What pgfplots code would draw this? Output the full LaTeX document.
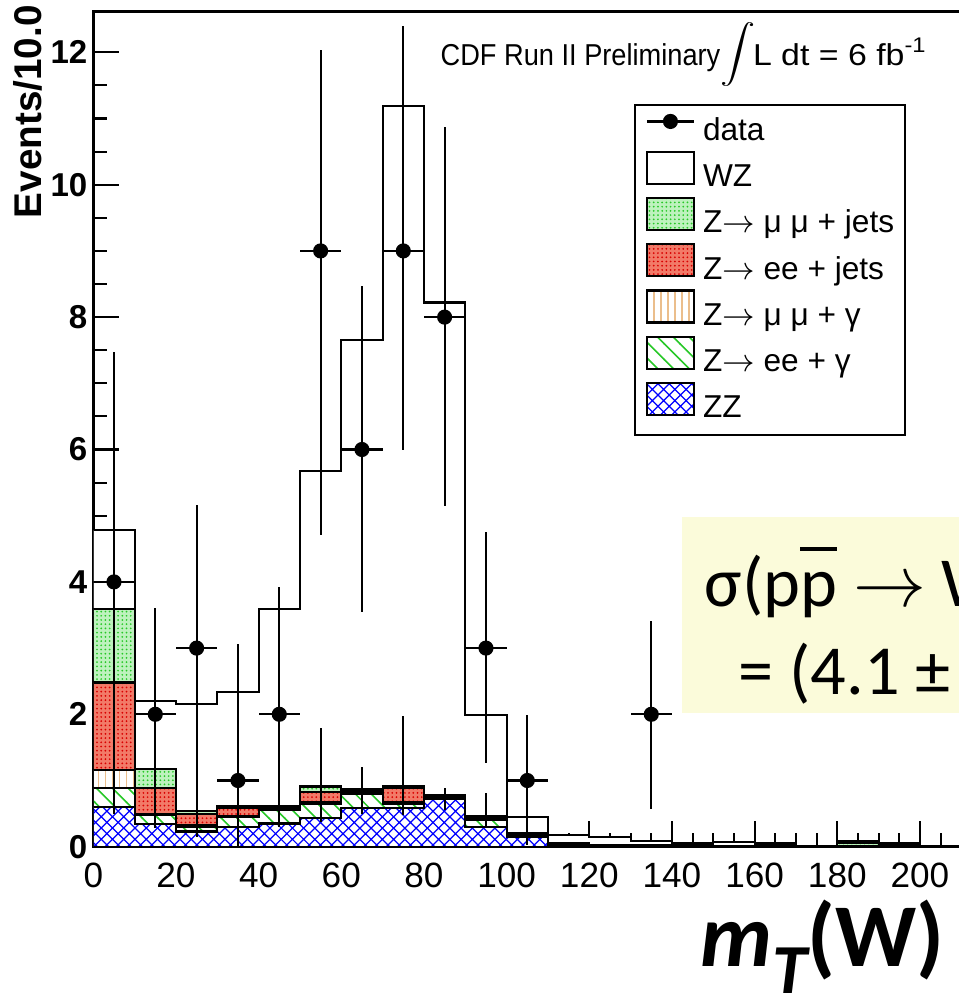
\documentclass[border=0pt]{standalone}
\usepackage{fontspec}
\setmainfont{Liberation Sans}
\newfontfamily\calibri{Carlito}
\usepackage{graphicx}
\usepackage{pgfplots}
\usepackage{pgfplotstable}
\pgfplotsset{compat=1.18}
\usetikzlibrary{patterns}

\pgfdeclarepatternformonly{dcross}{\pgfqpoint{-1pt}{-1pt}}{\pgfqpoint{4.2pt}{4.2pt}}{\pgfqpoint{3.2pt}{3.2pt}}{%
  \pgfsetlinewidth{0.35pt}%
  \pgfpathmoveto{\pgfqpoint{-0.1pt}{-0.1pt}}\pgfpathlineto{\pgfqpoint{3.3pt}{3.3pt}}%
  \pgfpathmoveto{\pgfqpoint{-0.1pt}{3.3pt}}\pgfpathlineto{\pgfqpoint{3.3pt}{-0.1pt}}%
  \pgfusepath{stroke}}
\pgfdeclarepatternformonly{nwlines}{\pgfqpoint{-1pt}{-1pt}}{\pgfqpoint{5.5pt}{5.5pt}}{\pgfqpoint{4.5pt}{4.5pt}}{%
  \pgfsetlinewidth{0.45pt}%
  \pgfpathmoveto{\pgfqpoint{-0.1pt}{4.6pt}}\pgfpathlineto{\pgfqpoint{4.6pt}{-0.1pt}}%
  \pgfusepath{stroke}}
\pgfdeclarepatternformonly{vlines}{\pgfqpoint{-1pt}{-1pt}}{\pgfqpoint{3pt}{3pt}}{\pgfqpoint{2pt}{2pt}}{%
  \pgfsetlinewidth{0.5pt}%
  \pgfpathmoveto{\pgfqpoint{0pt}{-0.1pt}}\pgfpathlineto{\pgfqpoint{0pt}{2.1pt}}%
  \pgfusepath{stroke}}
\pgfdeclarepatternformonly{fdots}{\pgfqpoint{-0.5pt}{-0.5pt}}{\pgfqpoint{1.7pt}{1.7pt}}{\pgfqpoint{1.2pt}{1.2pt}}{%
  \pgfpathcircle{\pgfqpoint{0pt}{0pt}}{0.28pt}\pgfusepath{fill}}

\definecolor{ybox}{RGB}{251,251,218}
\definecolor{zeefill}{RGB}{242,122,104}
\definecolor{zmmfill}{RGB}{190,242,190}
\definecolor{tan}{RGB}{235,190,140}
\definecolor{hgreen}{RGB}{40,200,40}

\newcommand\pbar{\leavevmode\setbox0\hbox{p}\rlap{\raisebox{0.8em}{\rule{\wd0}{0.05em}}}p}

% cumulative stack heights (ROOT THStack): x = low edge of bin
\pgfplotstableread{
x   zz    zeeg  zmmg  zeej  zmmj  wz
0   0.60  0.88  1.16  2.48  3.59  4.78
10  0.34  0.48  0.50  0.88  1.18  2.20
20  0.23  0.30  0.33  0.50  0.54  2.16
30  0.30  0.45  0.47  0.58  0.62  2.34
40  0.35  0.55  0.56  0.58  0.62  3.59
50  0.43  0.65  0.68  0.82  0.91  5.68
60  0.59  0.80  0.83  0.84  0.87  7.66
70  0.59  0.65  0.67  0.88  0.91  11.19
80  0.72  0.73  0.74  0.75  0.78  8.22
90  0.30  0.40  0.41  0.44  0.47  1.99
100 0.14  0.17  0.18  0.19  0.21  0.45
110 0.02  0.03  0.04  0.05  0.06  0.18
120 0.01  0.015 0.02  0.025 0.03  0.14
130 0.01  0.015 0.02  0.025 0.03  0.09
140 0.01  0.015 0.02  0.03  0.04  0.06
150 0.005 0.01  0.01  0.012 0.015 0.075
160 0.01  0.015 0.02  0.025 0.03  0.05
170 0     0     0     0     0     0.01
180 0     0.005 0.005 0.01  0.05  0.085
190 0.01  0.015 0.02  0.03  0.04  0.05
200 0     0     0     0     0     0
}\stacktab

\pgfplotstableread{
x   y  ex  ep    em
5   4  5   3.48  3.50
15  2  5   1.60  1.72
25  3  5   2.16  2.85
35  1  5   2.06  1.00
45  2  5   1.93  1.70
55  9  5   3.04  4.29
65  6  5   2.47  2.45
75  9  5   3.40  3.00
85  8  5   2.87  2.86
95  3  5   1.75  1.74
105 1  5   0.99  0.98
135 2  5   1.41  1.43
}\datatab

\pgfplotstableread{
x   lo    len
55  0.38  1.41
65  0.50  0.70
75  0.48  1.49
85  0.55  0.34
95  0.30  0.51
}\segtab

\begin{document}
\begin{tikzpicture}
\begin{axis}[
  at={(0,0)}, anchor=south west,
  scale only axis, width=103.33mm, height=83.54mm,
  xmin=0, xmax=250, ymin=0, ymax=12.62,
  axis line style={line width=0.7pt},
  xtick={0,20,...,200}, ytick={0,2,...,12},
  extra x ticks={220,240}, extra x tick labels={},
  minor xtick={5,10,...,245}, minor y tick num=3,
  xtick pos=bottom, ytick pos=left,
  tick align=inside,
  major tick length=2.6mm, minor tick length=1.4mm,
  every tick/.style={black, line width=0.6pt},
  extra x tick style={tick align=inside, major tick length=2.6mm},
  /pgf/number format/assume math mode=true,
  xticklabel style={font=\fontsize{10}{11}\selectfont, inner sep=1pt, yshift=-1.2mm},
  yticklabel style={font=\bfseries\fontsize{9.4}{10}\selectfont, inner sep=1.5pt},
  legend style={at={(0.5233,0.889)}, anchor=north west, draw=black, line width=0.5pt,
    font=\fontsize{9}{10}\selectfont, inner xsep=1.1mm, inner ysep=0.9mm,
    row sep=0.22mm, column sep=0.8mm,
    nodes={inner xsep=0pt, inner ysep=0pt, text height=2.6mm, text depth=0.8mm}},
  legend cell align=left,
  legend image code/.code={\draw[#1] (0mm,-0.6mm) rectangle (4.7mm,2.6mm);},
  every axis plot/.append style={line width=0.6pt},
]
\addlegendimage{legend image code/.code={
   \draw[black, line width=0.6pt] (0mm,1mm) -- (4.7mm,1mm);
   \fill[black] (2.35mm,1mm) circle (0.65mm);}}
\addlegendentry{data}

\addplot[const plot, draw=black, fill=white] table[x=x, y=wz] {\stacktab} \closedcycle;
\addlegendentry{WZ}
\addplot[const plot, draw=black, fill=zmmfill, postaction={pattern=fdots, pattern color=hgreen}] table[x=x, y=zmmj] {\stacktab} \closedcycle;
\addlegendentry{Z$\rightarrow$ μ μ + jets}
\addplot[const plot, draw=black, fill=zeefill, postaction={pattern=fdots, pattern color=red!85!black}] table[x=x, y=zeej] {\stacktab} \closedcycle;
\addlegendentry{Z$\rightarrow$ ee + jets}
\addplot[const plot, draw=black, fill=white, postaction={pattern=vlines, pattern color=tan}] table[x=x, y=zmmg] {\stacktab} \closedcycle;
\addlegendentry{Z$\rightarrow$ μ μ + γ}
\addplot[const plot, draw=black, fill=white, postaction={pattern=nwlines, pattern color=hgreen}] table[x=x, y=zeeg] {\stacktab} \closedcycle;
\addlegendentry{Z$\rightarrow$ ee + γ}
\addplot[const plot, draw=black, fill=white, postaction={pattern=dcross, pattern color=blue}] table[x=x, y=zz] {\stacktab} \closedcycle;
\addlegendentry{ZZ}

% extra vertical uncertainty segments
\addplot[forget plot, only marks, mark=*, mark size=0pt, black,
  error bars/.cd, y dir=plus, y explicit, error mark=none,
  error bar style={line width=0.6pt, draw=black, solid}]
  table[x=x, y=lo, y error=len] {\segtab};

% data
\addplot[forget plot, only marks, mark=*, mark size=0.65mm, black,
  error bars/.cd, x dir=both, x explicit, y dir=both, y explicit, error mark=none,
  error bar style={line width=0.6pt, black}]
  table[x=x, y=y, x error=ex, y error plus=ep, y error minus=em] {\datatab};
\end{axis}

% annotations
\node[anchor=base west, inner sep=0pt] at (34.67mm,78.07mm)
  {\fontsize{8.6}{10}\selectfont\scalebox{0.9}[1]{CDF Run II Preliminary}};
\node[inner sep=0pt] at (64.5mm,79.2mm)
  {\fontsize{8.6}{10}\selectfont\scalebox{1}[0.82]{$\displaystyle\int$}};
\node[anchor=base west, inner sep=0pt] at (65.9mm,78.07mm)
  {\fontsize{8.6}{10}\selectfont\scalebox{1.12}[1]{L dt = 6 fb\textsuperscript{-1}}};
\node[rotate=90, anchor=north east, inner sep=0pt, font=\bfseries\fontsize{11}{12}\selectfont]
  at (-8.1mm,84.2mm) {Events/10.0};

\fill[ybox] (58.84mm,13.4mm) rectangle (100mm,32.97mm);
\node[anchor=base west, inner sep=0pt, font=\calibri\fontsize{20}{20}\selectfont]
  at (61.07mm,23.97mm) {σ(p\pbar\ $\rightarrow$ WZ)};
\node[anchor=base west, inner sep=0pt, font=\calibri\fontsize{20}{20}\selectfont]
  at (64.47mm,15.17mm) {= (4.1 ± 0.6) pb};

\node[anchor=base west, inner sep=0pt, font=\calibri\bfseries\fontsize{25.5}{26}\selectfont]
  at (60.67mm,-12.03mm) {\itshape m\raisebox{-0.3em}{\fontsize{20}{20}\selectfont T}\upshape(W)};

\pgfresetboundingbox
\useasboundingbox (-9.33mm,-16.13mm) rectangle (86.47mm,84.67mm);
\end{tikzpicture}
\end{document}
